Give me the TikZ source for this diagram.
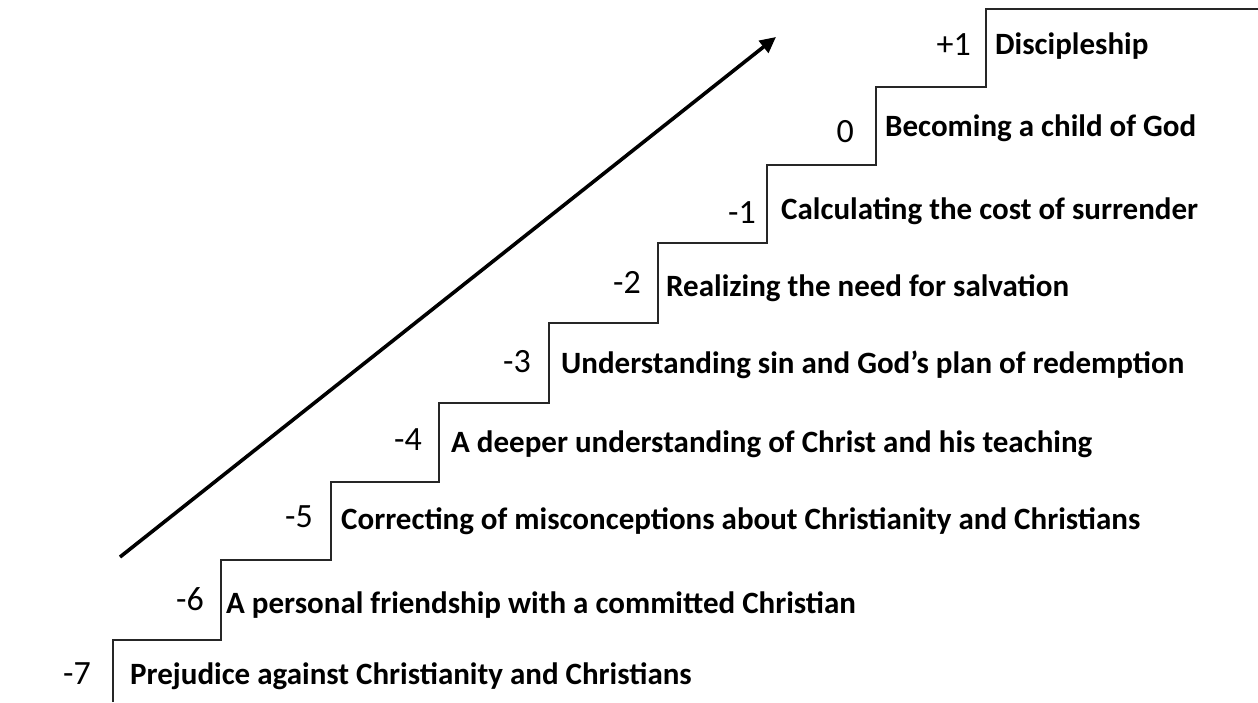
\documentclass[tikz,border=0pt]{standalone}
\usepackage{fontspec}
\setmainfont{Carlito}
\usetikzlibrary{arrows.meta}
\begin{document}
\begin{tikzpicture}[x=1pt,y=-1pt,
  stair/.style={line width=1.8pt,draw=black!85,line join=miter},
  rise/.style={line width=3.6pt,-{Triangle[length=16pt,width=15pt]}},
  num/.style={anchor=base east,inner sep=0pt,font=\fontsize{34}{38}\selectfont},
  lbl/.style={anchor=base west,inner sep=0pt,font=\fontsize{31}{35}\selectfont\bfseries}]
\useasboundingbox (0,0) rectangle (1258,702);
% staircase corners
\coordinate (s0) at (113,702);
\coordinate (s1) at (113,640);
\coordinate (s2) at (221,640);
\coordinate (s3) at (221,560);
\coordinate (s4) at (331,560);
\coordinate (s5) at (331,482);
\coordinate (s6) at (439,482);
\coordinate (s7) at (439,403);
\coordinate (s8) at (549,403);
\coordinate (s9) at (549,323);
\coordinate (s10) at (658,323);
\coordinate (s11) at (658,243);
\coordinate (s12) at (767,243);
\coordinate (s13) at (767,165);
\coordinate (s14) at (876,165);
\coordinate (s15) at (876,87);
\coordinate (s16) at (986,87);
\coordinate (s17) at (986,9);
\coordinate (s18) at (1258,9);
\draw[stair] (s0) -- (s1) -- (s2) -- (s3) -- (s4) -- (s5) -- (s6) -- (s7) -- (s8) -- (s9) -- (s10) -- (s11) -- (s12) -- (s13) -- (s14) -- (s15) -- (s16) -- (s17) -- (s18);
% arrow
\coordinate (a0) at (120,557);
\coordinate (a1) at (776,37);
\draw[rise] (a0) -- (a1);
% numbers
\node[num] (n7) at (91,684) {-7};
\node[num] (n6) at (204,610) {-6};
\node[num] (n5) at (313,527) {-5};
\node[num] (n4) at (422,450) {-4};
\node[num] (n3) at (531,372) {-3};
\node[num] (n2) at (641,293) {-2};
\node[num] (n1) at (756,223) {-1};
\node[num] (n0) at (854,142) {0};
\node[num] (p1) at (971,55) {+1};
% labels
\node[lbl] (t7) at (130,684) {Prejudice against Christianity and Christians};
\node[lbl] (t6) at (226,613) {A personal friendship with a committed Christian};
\node[lbl] (t5) at (341,529) {Correcting of misconceptions about Christianity and Christians};
\node[lbl] (t4) at (451,452) {A deeper understanding of Christ and his teaching};
\node[lbl] (t3) at (561,373) {Understanding sin and God’s plan of redemption};
\node[lbl] (t2) at (666,296) {Realizing the need for salvation};
\node[lbl] (t1) at (781,219) {Calculating the cost of surrender};
\node[lbl] (t0) at (885,136) {Becoming a child of God};
\node[lbl] (tp) at (995,54) {Discipleship};
\end{tikzpicture}
\end{document}
